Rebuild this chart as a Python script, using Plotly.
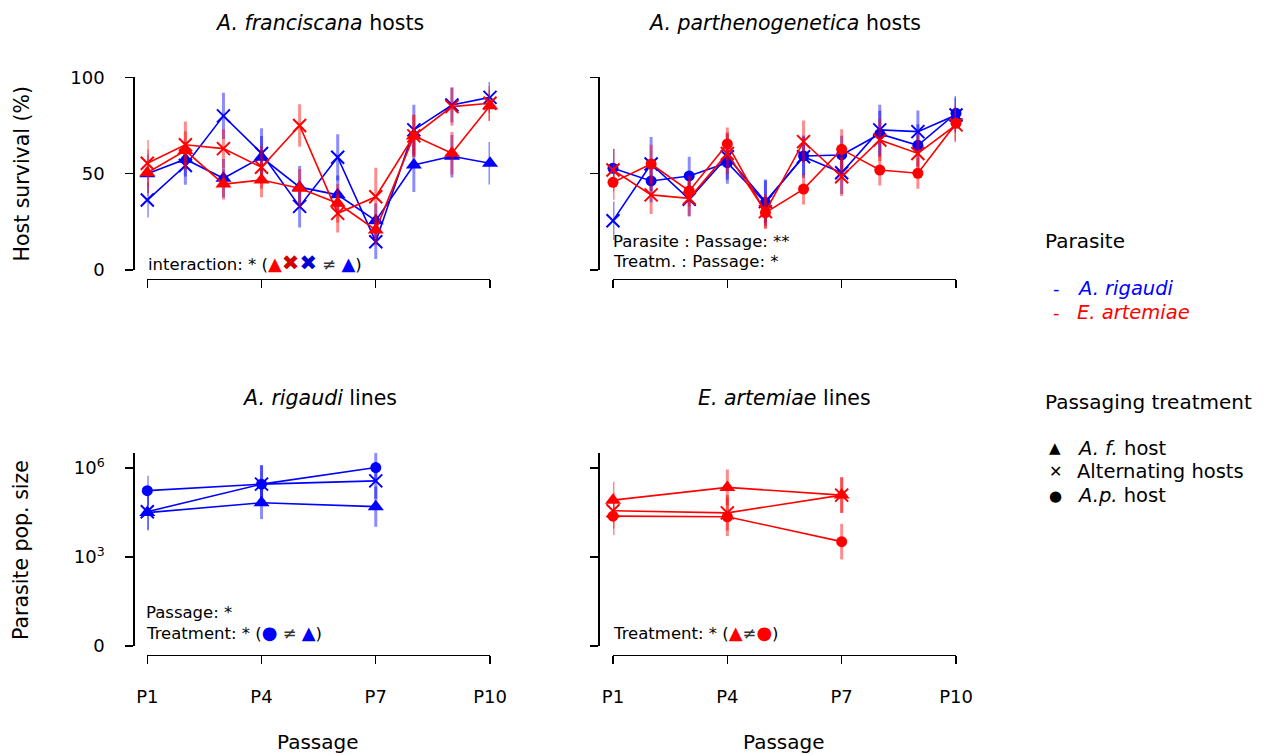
import plotly.graph_objects as go

W, H = 1265, 755
FONT = "DejaVu Sans"
BLUE = "#0000FF"
RED = "#FF0000"
BLUE_T = "rgba(0,0,255,0.45)"
RED_T = "rgba(255,0,0,0.45)"

# ---------------- data ----------------
passages = [1, 2, 3, 4, 5, 6, 7, 8, 9, 10]
pop_passages = [1, 4, 7]
passage_ticks = [1, 4, 7, 10]
passage_labels = ["P1", "P4", "P7", "P10"]

# A. franciscana hosts: host survival (%)
af_rig_afhost = [50.0, 57.5, 47.6, 58.5, 43.0, 39.0, 25.6, 54.5, 59.0, 55.4]
af_rig_afhost_err = [10, 9, 10, 11, 11, 10, 9, 14, 11, 11]
af_rig_alt = [36.3, 54.2, 80.0, 60.5, 33.0, 58.5, 14.7, 72.7, 85.6, 89.6]
af_rig_alt_err = [9, 10, 12, 13, 11, 12, 9, 13, 9, 8]
af_art_afhost = [50.5, 62.0, 44.6, 46.7, 42.4, 34.6, 20.8, 69.6, 60.6, 85.3]
af_art_afhost_err = [12, 10, 8, 9, 10, 10, 8, 11, 11, 8]
af_art_alt = [55.4, 65.0, 63.0, 53.3, 75.0, 29.4, 38.0, 69.6, 84.8, 86.5]
af_art_alt_err = [12, 12, 10, 11, 11, 10, 15, 11, 10, 9]

# A. parthenogenetica hosts: host survival (%)
ap_rig_aphost = [52.8, 46.2, 48.8, 55.7, 35.0, 59.2, 59.7, 70.6, 64.7, 81.3]
ap_rig_aphost_err = [10, 11, 10, 11, 12, 10, 10, 12, 11, 9]
ap_rig_alt = [25.6, 55.0, 36.7, 58.8, 35.5, 58.8, 50.5, 72.7, 71.8, 80.4]
ap_rig_alt_err = [10, 14, 9, 12, 11, 11, 11, 13, 11, 9]
ap_art_aphost = [45.5, 55.0, 41.0, 65.4, 29.8, 42.0, 62.6, 51.9, 50.2, 76.1]
ap_art_aphost_err = [9, 10, 8, 8.5, 8, 8, 10.5, 8, 8, 9]
ap_art_alt = [51.9, 39.0, 37.2, 60.5, 30.3, 66.6, 48.4, 67.5, 60.5, 75.3]
ap_art_alt_err = [11, 10, 9, 11, 9, 11, 10, 11, 10, 9]

# Parasite population size (log10 scale)
rig_pop_afhost = [4.50, 4.83, 4.70]
rig_pop_afhost_err = [0.6, 0.55, 0.68]
rig_pop_alt = [4.53, 5.46, 5.57]
rig_pop_alt_err = [0.6, 0.64, 0.6]
rig_pop_aphost = [5.24, 5.46, 6.02]
rig_pop_aphost_err = [0.5, 0.64, 0.5]
art_pop_afhost = [4.92, 5.35, 5.09]
art_pop_afhost_err = [0.62, 0.6, 0.6]
art_pop_alt = [4.56, 4.49, 5.09]
art_pop_alt_err = [0.6, 0.6, 0.6]
art_pop_aphost = [4.38, 4.36, 3.52]
art_pop_aphost_err = [0.64, 0.65, 0.6]

pop_ticks = [0, 3, 6]
pop_labels = ["0", "10<sup>3</sup>", "10<sup>6</sup>"]


def fx(px):
    return px / W


def fy(py):
    return 1 - py / H


fig = go.Figure()

SYM = {"tri": ("triangle-up", 14), "alt": ("x-thin", 13), "circ": ("circle", 11)}


def add(x, y, err, color, tcolor, kind, ax):
    sym, size = SYM[kind]
    marker = dict(symbol=sym, size=size, color=color)
    if kind == "alt":
        marker["line"] = dict(width=2, color=color)
    else:
        marker["line"] = dict(width=0)
    fig.add_trace(go.Scatter(
        x=x, y=y, mode="lines+markers",
        line=dict(color=color, width=1.6),
        marker=marker,
        error_y=dict(type="data", array=err, visible=True, color=tcolor,
                     thickness=3, width=0),
        xaxis="x" + ax, yaxis="y" + ax,
        cliponaxis=False, showlegend=False, hoverinfo="skip",
    ))


# top-left
add(passages, af_rig_alt, af_rig_alt_err, BLUE, BLUE_T, "alt", "")
add(passages, af_rig_afhost, af_rig_afhost_err, BLUE, BLUE_T, "tri", "")
add(passages, af_art_alt, af_art_alt_err, RED, RED_T, "alt", "")
add(passages, af_art_afhost, af_art_afhost_err, RED, RED_T, "tri", "")
# top-right
add(passages, ap_rig_alt, ap_rig_alt_err, BLUE, BLUE_T, "alt", "2")
add(passages, ap_rig_aphost, ap_rig_aphost_err, BLUE, BLUE_T, "circ", "2")
add(passages, ap_art_alt, ap_art_alt_err, RED, RED_T, "alt", "2")
add(passages, ap_art_aphost, ap_art_aphost_err, RED, RED_T, "circ", "2")
# bottom-left
add(pop_passages, rig_pop_afhost, rig_pop_afhost_err, BLUE, BLUE_T, "tri", "3")
add(pop_passages, rig_pop_alt, rig_pop_alt_err, BLUE, BLUE_T, "alt", "3")
add(pop_passages, rig_pop_aphost, rig_pop_aphost_err, BLUE, BLUE_T, "circ", "3")
# bottom-right
add(pop_passages, art_pop_afhost, art_pop_afhost_err, RED, RED_T, "tri", "4")
add(pop_passages, art_pop_alt, art_pop_alt_err, RED, RED_T, "alt", "4")
add(pop_passages, art_pop_aphost, art_pop_aphost_err, RED, RED_T, "circ", "4")

AX = dict(showline=True, linecolor="black", linewidth=1.3, ticks="outside",
          ticklen=8, tickwidth=1.3, tickcolor="black", showgrid=False,
          zeroline=False, anchor="free", automargin=False, fixedrange=True,
          tickfont=dict(family=FONT, size=18, color="black"))


def xax(x0, x1, ypos, labels):
    d = dict(AX, domain=[fx(x0), fx(x1)], range=[1, 10], position=fy(ypos),
             tickvals=passage_ticks, ticktext=passage_labels,
             showticklabels=labels, ticklabelstandoff=18)
    return d


def yax(y_top, y_bot, xpos, rng, tv, tt, labels):
    d = dict(AX, domain=[fy(y_bot), fy(y_top)], range=rng, position=fx(xpos),
             tickvals=tv, ticktext=tt, showticklabels=labels,
             ticklabelstandoff=17)
    return d


fig.update_layout(
    template="none",
    width=W, height=H, margin=dict(l=0, r=0, t=0, b=0, pad=0),
    plot_bgcolor="white", paper_bgcolor="white",
    font=dict(family=FONT, color="black"),
    xaxis=xax(147.3, 490, 279, False),
    yaxis=yax(77.3, 270, 133.3, [0, 100], [0, 50, 100], ["0", "50", "100"], True),
    xaxis2=xax(613, 956, 279, False),
    yaxis2=yax(77.3, 270, 598.3, [0, 100], [0, 50, 100], ["0", "50", "100"], False),
    xaxis3=xax(147.3, 490, 654.5, True),
    yaxis3=yax(452.7, 646, 133.3, [0, 6.52], pop_ticks, pop_labels, True),
    xaxis4=xax(613, 956, 654.5, True),
    yaxis4=yax(452.7, 646, 598.3, [0, 6.52], pop_ticks, pop_labels, False),
)

ann = []


def text(x, y, s, size, xanchor="center", color="black", angle=0):
    ann.append(dict(x=fx(x), y=fy(y), xref="paper", yref="paper", text=s,
                    showarrow=False, xanchor=xanchor, yanchor="middle",
                    textangle=angle,
                    font=dict(family=FONT, size=size, color=color)))


# titles
text(319, 23, "<i>A. franciscana</i> hosts", 20.5)
text(784, 23, "<i>A. parthenogenetica</i> hosts", 20.5)
text(319, 398, "<i>A. rigaudi</i> lines", 20.5)
text(784, 398, "<i>E. artemiae</i> lines", 20.5)
# axis titles
text(21.5, 174, "Host survival (%)", 20.5, angle=-90)
text(21, 550, "Parasite pop. size", 20.5, angle=-90)
text(318, 742, "Passage", 20)
text(784, 742, "Passage", 20)


def c(s, col, size=18):
    return f"<span style='color:{col};font-size:{size}px'>{s}</span>"


NE = "<span style='color:#333333'>≠</span>"
ANN = 16.5
# statistics notes
text(146, 262.5, "interaction: * (" + c("▲", RED) + c("✖", "#D00000", 21) + c("✖", "#0000D0", 21)
     + " " + NE + " " + c("▲", BLUE) + ")", ANN, xanchor="left")
text(611, 241.5, "Parasite : Passage: **", ANN, xanchor="left")
text(611, 261.5, "Treatm. : Passage: *", ANN, xanchor="left")
text(144, 612.5, "Passage: *", ANN, xanchor="left")
text(144, 632.5, "Treatment: * (" + c("●", BLUE) + " " + NE + " " + c("▲", BLUE) + ")", ANN, xanchor="left")
text(611, 632.5, "Treatment: * (" + c("▲", RED) + NE + c("●", RED) + ")", ANN, xanchor="left")

# legend
text(1043, 241, "Parasite", 20, xanchor="left")
text(1051, 288, c("-", BLUE, 18), 18, xanchor="left")
text(1075, 288, c("<i>A. rigaudi</i>", BLUE, 19.5), 19.5, xanchor="left")
text(1051, 312.5, c("-", RED, 18), 18, xanchor="left")
text(1075, 312.5, c("<i>E. artemiae</i>", RED, 19.5), 19.5, xanchor="left")
text(1043, 401.5, "Passaging treatment", 20, xanchor="left")
text(1047, 448, "▲", 15, xanchor="left")
text(1075, 448, "<i>A. f.</i> host", 19.5, xanchor="left")
text(1047, 472, "✕", 16, xanchor="left")
text(1075, 472, "Alternating hosts", 19.5, xanchor="left")
text(1047, 496, "●", 15, xanchor="left")
text(1075, 496, "<i>A.p.</i> host", 19.5, xanchor="left")

fig.update_layout(annotations=ann)

fig.write_html("out.html", config={"displayModeBar": False, "staticPlot": True},
               post_script="document.body.style.margin='0';")
